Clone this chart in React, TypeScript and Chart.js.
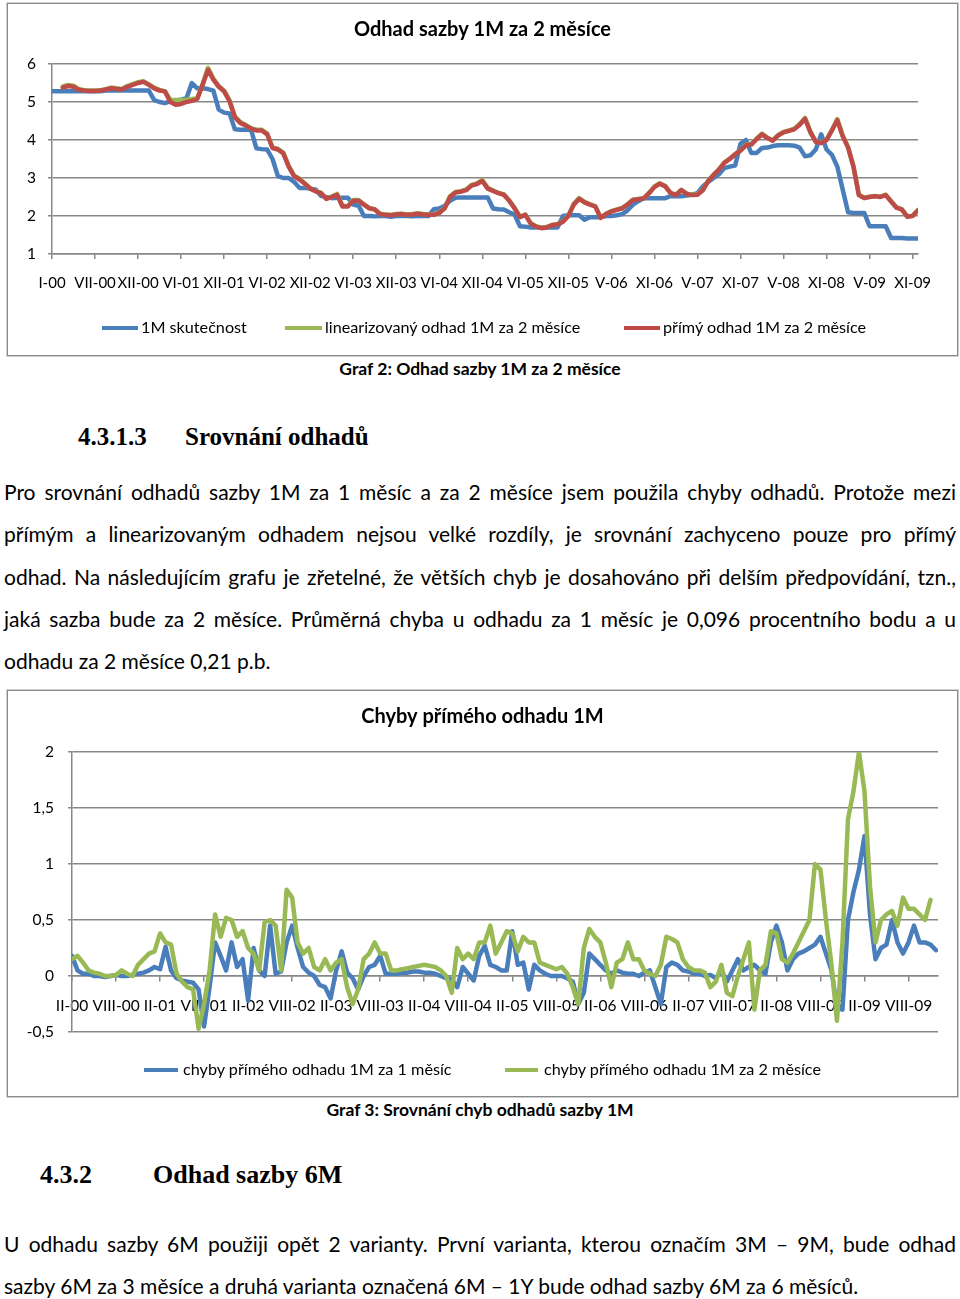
import React, { useEffect, useRef } from 'react';
import { Chart, registerables } from 'chart.js';

Chart.register(...registerables);

const BLUE = '#4a7ebb';
const GREEN = '#98b954';
const RED = '#be4b48';
const AXIS = '#878787';
const FONT = 'Lato';

// samples per labelled tick interval
const STEP = 8;

// ---------- Graf 2 ----------
const rateTickLabels = ['I-00', 'VII-00', 'XII-00', 'VI-01', 'XII-01', 'VI-02', 'XII-02', 'VI-03', 'XII-03', 'VI-04', 'XII-04', 'VI-05', 'XII-05', 'V-06', 'XI-06', 'V-07', 'XI-07', 'V-08', 'XI-08', 'V-09', 'XI-09'];

const rateActual = [
  5.28, 5.28, 5.28, 5.28, 5.28, 5.28, 5.28, 5.28,
  5.28, 5.28, 5.30, 5.30, 5.30, 5.30, 5.30, 5.30,
  5.30, 5.30, 5.30, 5.05, 5.00, 4.97, 5.02, 5.04,
  5.06, 5.10, 5.50, 5.36, 5.36, 5.34, 5.30, 4.80,
  4.72, 4.70, 4.28, 4.27, 4.27, 4.27, 3.78, 3.76,
  3.75, 3.50, 3.05, 3.00, 3.00, 2.90, 2.74, 2.74,
  2.72, 2.70, 2.53, 2.50, 2.47, 2.48, 2.48, 2.48,
  2.30, 2.27, 2.00, 2.00, 1.99, 2.00, 2.00, 1.98,
  2.00, 2.00, 2.00, 1.99, 2.00, 2.00, 2.00, 2.18,
  2.20, 2.27, 2.40, 2.48, 2.49, 2.49, 2.49, 2.49,
  2.49, 2.49, 2.20, 2.18, 2.17, 2.10, 2.04, 1.73,
  1.72, 1.70, 1.70, 1.70, 1.70, 1.70, 1.70, 2.00,
  2.02, 2.02, 2.02, 1.90, 1.97, 1.97, 1.97, 2.00,
  2.00, 2.02, 2.05, 2.15, 2.30, 2.39, 2.47, 2.47,
  2.47, 2.47, 2.47, 2.52, 2.52, 2.52, 2.54, 2.56,
  2.60, 2.78, 2.90, 3.00, 3.10, 3.26, 3.30, 3.33,
  3.90, 4.00, 3.66, 3.66, 3.79, 3.80, 3.84, 3.86,
  3.86, 3.86, 3.85, 3.80, 3.57, 3.60, 3.75, 4.15,
  3.75, 3.61, 3.30, 2.70, 2.10, 2.08, 2.08, 2.08,
  1.73, 1.73, 1.73, 1.73, 1.42, 1.42, 1.42, 1.41,
  1.41, 1.41,
];

const rateLinear = [
  null, null, 5.41, 5.45, 5.43, 5.34, 5.31, 5.30,
  5.30, 5.31, 5.34, 5.38, 5.36, 5.34, 5.42, 5.47,
  5.52, 5.55, 5.47, 5.38, 5.32, 5.28, 5.06, 5.05,
  5.05, 5.06, 5.08, 5.10, 5.47, 5.90, 5.62, 5.42,
  5.30, 5.05, 4.62, 4.47, 4.40, 4.31, 4.27, 4.27,
  4.17, 3.80, 3.77, 3.67, 3.32, 3.07, 2.98, 2.86,
  2.73, 2.66, 2.61, 2.46, 2.51, 2.58, 2.27, 2.26,
  2.42, 2.42, 2.31, 2.21, 2.18, 2.06, 2.04, 2.03,
  2.05, 2.06, 2.04, 2.05, 2.07, 2.05, 2.04, 2.04,
  2.09, 2.21, 2.52, 2.63, 2.65, 2.70, 2.82, 2.86,
  2.95, 2.74, 2.67, 2.61, 2.57, 2.41, 2.21, 1.98,
  2.04, 1.81, 1.73, 1.69, 1.71, 1.77, 1.79, 1.86,
  2.01, 2.32, 2.47, 2.37, 2.31, 2.26, 1.96, 2.06,
  2.13, 2.17, 2.21, 2.31, 2.43, 2.45, 2.47, 2.61,
  2.78, 2.86, 2.79, 2.61, 2.56, 2.69, 2.59, 2.56,
  2.57, 2.69, 2.93, 3.09, 3.23, 3.41, 3.51, 3.63,
  3.73, 3.87, 3.90, 4.04, 4.17, 4.06, 3.99, 4.13,
  4.21, 4.25, 4.30, 4.42, 4.58, 4.22, 3.96, 3.93,
  4.01, 4.27, 4.55, 4.12, 3.82, 3.31, 2.57, 2.48,
  2.51, 2.53, 2.51, 2.56, 2.39, 2.23, 2.18, 1.99,
  2.01, 2.16,
];

const rateDirect = [
  null, null, 5.38, 5.42, 5.40, 5.32, 5.30, 5.29,
  5.29, 5.30, 5.33, 5.36, 5.34, 5.33, 5.40, 5.45,
  5.50, 5.53, 5.45, 5.36, 5.30, 5.28, 5.00, 4.93,
  4.95, 5.00, 5.03, 5.08, 5.45, 5.85, 5.59, 5.40,
  5.28, 5.02, 4.60, 4.45, 4.38, 4.30, 4.25, 4.25,
  4.15, 3.79, 3.75, 3.65, 3.30, 3.05, 2.96, 2.85,
  2.72, 2.65, 2.60, 2.45, 2.50, 2.56, 2.25, 2.25,
  2.40, 2.40, 2.30, 2.20, 2.17, 2.05, 2.03, 2.02,
  2.04, 2.05, 2.03, 2.04, 2.06, 2.04, 2.03, 2.03,
  2.08, 2.20, 2.50, 2.62, 2.64, 2.68, 2.80, 2.84,
  2.92, 2.72, 2.66, 2.60, 2.56, 2.40, 2.20, 1.97,
  2.03, 1.80, 1.72, 1.68, 1.70, 1.76, 1.78, 1.85,
  2.00, 2.30, 2.45, 2.36, 2.30, 2.25, 1.95, 2.05,
  2.12, 2.16, 2.20, 2.30, 2.42, 2.44, 2.46, 2.60,
  2.76, 2.85, 2.78, 2.60, 2.55, 2.68, 2.58, 2.55,
  2.56, 2.68, 2.92, 3.08, 3.22, 3.40, 3.50, 3.62,
  3.72, 3.86, 3.88, 4.02, 4.15, 4.05, 3.98, 4.12,
  4.20, 4.24, 4.28, 4.40, 4.56, 4.20, 3.95, 3.92,
  4.00, 4.25, 4.52, 4.10, 3.80, 3.30, 2.55, 2.47,
  2.50, 2.52, 2.50, 2.55, 2.38, 2.22, 2.17, 1.98,
  2.00, 2.15,
];

const rateLegend = ['1M skutečnost', 'linearizovaný odhad 1M za 2 měsíce', 'přímý odhad 1M za 2 měsíce'];

// ---------- Graf 3 ----------
const errTickLabels = ['II-00', 'VIII-00', 'II-01', 'VIII-01', 'II-02', 'VIII-02', 'II-03', 'VIII-03', 'II-04', 'VIII-04', 'II-05', 'VIII-05', 'II-06', 'VIII-06', 'II-07', 'VIII-07', 'II-08', 'VIII-08', 'II-09', 'VIII-09'];

const err1M = [
  0.18, 0.05, 0.02, 0.02, 0.00, 0.00, -0.01, 0.00,
  0.01, 0.00, 0.00, 0.01, 0.02, 0.03, 0.05, 0.08,
  0.06, 0.26, 0.05, -0.02, -0.04, -0.05, -0.06, -0.12,
  -0.45, -0.10, 0.30, 0.18, 0.05, 0.30, 0.08, 0.15,
  -0.22, 0.25, 0.05, 0.00, 0.45, 0.02, 0.04, 0.30,
  0.45, 0.25, 0.08, 0.03, 0.00, -0.08, -0.10, -0.20,
  0.05, 0.22, 0.03, -0.02, -0.12, 0.00, 0.08, 0.10,
  0.18, 0.02, 0.02, 0.02, 0.03, 0.03, 0.04, 0.04,
  0.03, 0.03, 0.02, 0.00, -0.02, -0.03, -0.10, 0.08,
  0.02, -0.04, 0.18, 0.27, 0.10, 0.08, 0.05, 0.05,
  0.40, 0.10, 0.12, -0.12, 0.10, 0.05, 0.02, 0.00,
  0.00, 0.00, -0.02, -0.05, -0.25, -0.15, 0.20, 0.15,
  0.10, 0.05, 0.02, 0.05, 0.03, 0.02, 0.02, 0.00,
  0.03, 0.05, -0.10, -0.25, 0.08, 0.12, 0.10, 0.05,
  0.04, 0.02, 0.02, 0.00, 0.01, -0.02, 0.05, -0.05,
  0.05, 0.15, 0.05, 0.08, 0.10, 0.05, 0.02, 0.30,
  0.45, 0.30, 0.05, 0.15, 0.20, 0.22, 0.25, 0.28,
  0.35, 0.20, 0.05, -0.28, -0.30, 0.50, 0.75, 0.95,
  1.25, 0.55, 0.15, 0.25, 0.28, 0.50, 0.30, 0.20,
  0.30, 0.45, 0.30, 0.30, 0.28, 0.23,
];

const err2M = [
  0.15, 0.18, 0.12, 0.05, 0.03, 0.02, 0.00, 0.00,
  0.01, 0.05, 0.02, 0.00, 0.10, 0.15, 0.20, 0.22,
  0.38, 0.30, 0.28, 0.02, -0.05, -0.10, -0.12, -0.47,
  -0.25, 0.05, 0.55, 0.35, 0.52, 0.50, 0.35, 0.40,
  0.25, 0.20, 0.05, 0.48, 0.50, 0.45, 0.05, 0.77,
  0.70, 0.30, 0.20, 0.25, 0.08, 0.05, 0.15, 0.05,
  0.12, 0.15, -0.10, -0.25, -0.12, 0.15, 0.20, 0.30,
  0.20, 0.20, 0.05, 0.05, 0.06, 0.07, 0.08, 0.09,
  0.10, 0.09, 0.08, 0.05, 0.00, -0.15, 0.25, 0.15,
  0.20, 0.15, 0.30, 0.30, 0.45, 0.20, 0.30, 0.40,
  0.38, 0.22, 0.35, 0.30, 0.30, 0.12, 0.10, 0.08,
  0.06, 0.08, 0.02, -0.10, -0.25, 0.25, 0.42, 0.35,
  0.30, 0.12, -0.10, 0.12, 0.15, 0.30, 0.15, 0.15,
  0.05, 0.02, 0.00, 0.10, 0.35, 0.33, 0.30, 0.15,
  0.08, 0.05, 0.05, 0.03, -0.10, -0.05, 0.10, -0.15,
  -0.18, 0.00, 0.15, 0.30, -0.30, 0.05, 0.10, 0.40,
  0.38, 0.15, 0.12, 0.20, 0.30, 0.40, 0.50, 1.00,
  0.95, 0.50, 0.10, -0.40, 0.30, 1.40, 1.65, 2.00,
  1.65, 0.80, 0.30, 0.50, 0.55, 0.58, 0.45, 0.70,
  0.60, 0.60, 0.55, 0.50, 0.68,
];

const errLegend = ['chyby přímého odhadu 1M za 1 měsíc', 'chyby přímého odhadu 1M za 2 měsíce'];

// ---------- text ----------
const para1 = [
  'Pro srovnání odhadů sazby 1M za 1 měsíc a za 2 měsíce jsem použila chyby odhadů. Protože mezi',
  'přímým a linearizovaným odhadem nejsou velké rozdíly, je srovnání zachyceno pouze pro přímý',
  'odhad. Na následujícím grafu je zřetelné, že větších chyb je dosahováno při delším předpovídání, tzn.,',
  'jaká sazba bude za 2 měsíce. Průměrná chyba u odhadu za 1 měsíc je 0,096 procentního bodu a u',
  'odhadu za 2 měsíce 0,21 p.b.',
];
const para2 = [
  'U odhadu sazby 6M použiji opět 2 varianty. První varianta, kterou označím 3M – 9M, bude odhad',
  'sazby 6M za 3 měsíce a druhá varianta označená 6M – 1Y bude odhad sazby 6M za 6 měsíců.',
];

function toPoints(values: (number | null)[]) {
  return values.map((v, k) => ({ x: k / STEP, y: v }));
}

function lineDataset(label: string, values: (number | null)[], color: string, order: number) {
  return {
    label,
    data: toPoints(values),
    borderColor: color,
    backgroundColor: color,
    borderWidth: 4.5,
    pointRadius: 0,
    tension: 0,
    borderJoinStyle: 'round',
    borderCapStyle: 'round',
    order,
  };
}

const titleFont = { family: FONT, size: 20, weight: 'bold' };

// an empty right-hand axis that only reserves space, so that the title stays centred on the whole box
function spacerAxis(width: number) {
  return {
    type: 'linear',
    position: 'right',
    display: true,
    afterFit: (s: any) => { s.width = width; },
    grid: { display: false, drawTicks: false },
    border: { display: false },
    ticks: { display: false },
  };
}

function rateConfig(): any {
  return {
    type: 'line',
    data: {
      datasets: [
        lineDataset(rateLegend[0], rateActual, BLUE, 3),
        lineDataset(rateLegend[1], rateLinear, GREEN, 2),
        lineDataset(rateLegend[2], rateDirect, RED, 1),
      ],
    },
    options: {
      animation: false,
      responsive: true,
      maintainAspectRatio: false,
      layout: { padding: { left: 0, right: 0, top: 0, bottom: 55 } },
      plugins: {
        legend: { display: false },
        tooltip: { enabled: false },
        title: {
          display: true,
          text: 'Odhad sazby 1M za 2 měsíce',
          color: '#000',
          font: titleFont,
          padding: { top: 14, bottom: 22 },
        },
      },
      scales: {
        x: {
          type: 'linear',
          min: 0,
          max: 20.125,
          afterFit: (s: any) => { s.height = 46; },
          grid: { drawOnChartArea: false, drawTicks: true, tickLength: 5, color: AXIS, lineWidth: 1.5 },
          border: { color: AXIS, width: 1.5 },
          ticks: {
            stepSize: 1,
            includeBounds: false,
            autoSkip: false,
            maxRotation: 0,
            minRotation: 0,
            padding: 15,
            color: '#000',
            font: { family: FONT, size: 15 },
            callback: (v: number) => rateTickLabels[v] ?? '',
          },
        },
        y: {
          min: 1,
          max: 6,
          afterFit: (s: any) => { s.width = 44; },
          grid: { color: AXIS, lineWidth: 1.5, tickLength: 4 },
          border: { color: AXIS, width: 1.5 },
          ticks: { stepSize: 1, padding: 12, color: '#000', font: { family: FONT, size: 15.5 } },
        },
        pad: spacerAxis(39),
      },
    },
  };
}

function errConfig(): any {
  return {
    type: 'line',
    data: {
      datasets: [
        lineDataset(errLegend[0], err1M, BLUE, 2),
        lineDataset(errLegend[1], err2M, GREEN, 1),
      ],
    },
    options: {
      animation: false,
      responsive: true,
      maintainAspectRatio: false,
      layout: { padding: { left: 0, right: 0, top: 0, bottom: 64 } },
      plugins: {
        legend: { display: false },
        tooltip: { enabled: false },
        title: {
          display: true,
          text: 'Chyby přímého odhadu 1M',
          color: '#000',
          font: titleFont,
          padding: { top: 14, bottom: 23 },
        },
      },
      scales: {
        x: {
          type: 'linear',
          min: 0,
          max: 19.67,
          position: { y: 0 },
          grid: { drawOnChartArea: false, drawTicks: true, tickLength: 5, color: AXIS, lineWidth: 1.5 },
          border: { color: AXIS, width: 1.5 },
          ticks: {
            stepSize: 1,
            includeBounds: false,
            autoSkip: false,
            maxRotation: 0,
            minRotation: 0,
            padding: 16,
            color: '#000',
            font: { family: FONT, size: 15.5 },
            callback: (v: number) => errTickLabels[v] ?? '',
          },
        },
        y: {
          min: -0.5,
          max: 2,
          afterFit: (s: any) => { s.width = 64; },
          grid: { color: AXIS, lineWidth: 1.5, tickLength: 4 },
          border: { color: AXIS, width: 1.5 },
          ticks: {
            stepSize: 0.5,
            padding: 14,
            color: '#000',
            font: { family: FONT, size: 15.5 },
            callback: (v: number) => String(v).replace('.', ','),
          },
        },
        pad: spacerAxis(19),
      },
    },
  };
}

function ChartBox({ left, top, width, height, config }: any) {
  const ref = useRef<HTMLCanvasElement>(null);
  useEffect(() => {
    const chart = new Chart(ref.current as HTMLCanvasElement, config());
    return () => chart.destroy();
  }, []);
  return (
    <div
      style={{
        position: 'absolute', left, top, width, height,
        border: '1px solid #8a8a8a', boxShadow: '0 0 0 0.6px #b0b0b0',
        boxSizing: 'border-box', background: '#fff',
      }}
    >
      <div style={{ position: 'relative', width: width - 2, height: height - 2 }}>
        <canvas ref={ref} />
      </div>
    </div>
  );
}

function LegendItem({ color, lineX, lineW, textX, y, text }: any) {
  return (
    <>
      <div style={{ position: 'absolute', left: lineX, top: y - 1.75, width: lineW, height: 3.5, background: color }} />
      <div style={{ position: 'absolute', left: textX, top: y - 11, lineHeight: '20px', fontSize: 16.2, whiteSpace: 'nowrap', color: '#000' }}>
        {text}
      </div>
    </>
  );
}

function JustifiedLines({ lines, top, step }: { lines: string[]; top: number; step: number }) {
  return (
    <>
      {lines.map((line, i) => (
        <div
          key={i}
          style={{
            position: 'absolute', left: 4, width: 952, top: top + i * step,
            fontSize: 21, lineHeight: '42px', whiteSpace: 'nowrap',
            textAlign: i === lines.length - 1 ? 'left' : 'justify',
            textAlignLast: i === lines.length - 1 ? 'left' : 'justify',
          } as any}
        >
          {line}
        </div>
      ))}
    </>
  );
}

export default function App() {
  useEffect(() => {
    document.body.style.margin = '0';
  }, []);
  const serif = '"Liberation Serif", "DejaVu Serif", serif';
  return (
    <div style={{ position: 'absolute', left: 0, top: 0, width: 960, height: 1299, background: '#fff', fontFamily: 'Lato, "Open Sans", sans-serif', color: '#000', overflow: 'hidden' }}>
      <ChartBox left={7} top={3} width={951} height={353} config={rateConfig} />
      <LegendItem color={BLUE} lineX={102} lineW={36} textX={141} y={328} text={rateLegend[0]} />
      <LegendItem color={GREEN} lineX={285} lineW={37} textX={325} y={328} text={rateLegend[1]} />
      <LegendItem color={RED} lineX={624} lineW={36} textX={663} y={328} text={rateLegend[2]} />

      <div style={{ position: 'absolute', left: 0, width: 960, top: 358, textAlign: 'center', fontWeight: 'bold', fontSize: 17.5, lineHeight: '22px' }}>
        Graf 2: Odhad sazby 1M za 2 měsíce
      </div>

      <div style={{ position: 'absolute', left: 78, top: 422, fontFamily: serif, fontWeight: 'bold', fontSize: 25, lineHeight: '30px' }}>4.3.1.3</div>
      <div style={{ position: 'absolute', left: 185, top: 422, fontFamily: serif, fontWeight: 'bold', fontSize: 25, lineHeight: '30px' }}>Srovnání odhadů</div>

      <JustifiedLines lines={para1} top={471} step={42.25} />

      <ChartBox left={7} top={690} width={951} height={407} config={errConfig} />
      <LegendItem color={BLUE} lineX={144} lineW={34} textX={183} y={1070} text={errLegend[0]} />
      <LegendItem color={GREEN} lineX={505} lineW={33} textX={544} y={1070} text={errLegend[1]} />

      <div style={{ position: 'absolute', left: 0, width: 960, top: 1099, textAlign: 'center', fontWeight: 'bold', fontSize: 17.5, lineHeight: '22px' }}>
        Graf 3: Srovnání chyb odhadů sazby 1M
      </div>

      <div style={{ position: 'absolute', left: 40, top: 1159, fontFamily: serif, fontWeight: 'bold', fontSize: 26, lineHeight: '32px' }}>4.3.2</div>
      <div style={{ position: 'absolute', left: 153, top: 1159, fontFamily: serif, fontWeight: 'bold', fontSize: 26, lineHeight: '32px' }}>Odhad sazby 6M</div>

      <JustifiedLines lines={para2} top={1223} step={42} />
    </div>
  );
}
